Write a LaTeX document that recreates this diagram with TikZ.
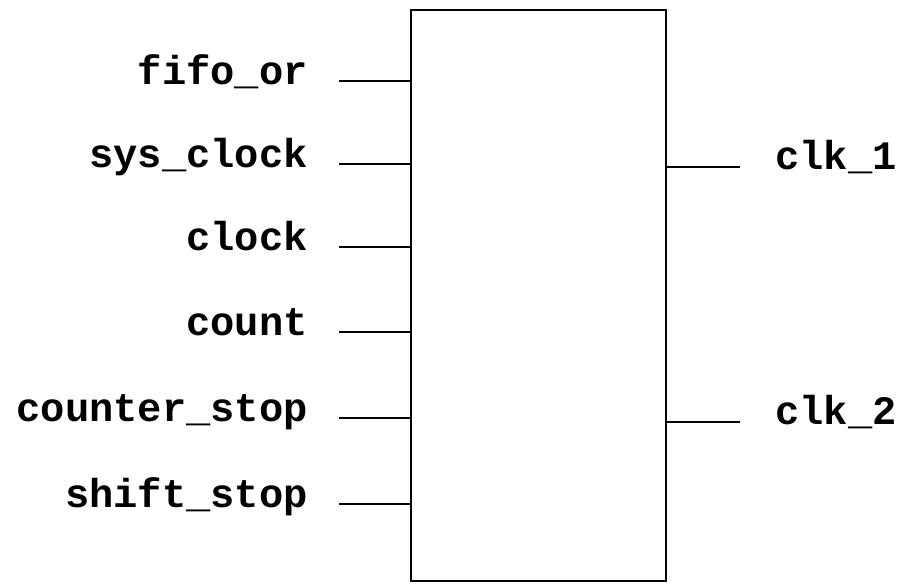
\documentclass[tikz,border=0pt]{standalone}
\usepackage{fontspec}
\newfontfamily\pinfont{Liberation Mono}
\usetikzlibrary{positioning}
\begin{document}
\begin{tikzpicture}[x=1cm, y=1cm, font=\pinfont\bfseries\fontsize{23}{26}\selectfont,
  block/.style={draw=black, line width=1.5pt, minimum width=5.1cm, minimum height=11.42cm, inner sep=0pt},
  wire/.style={line width=1.3pt},
  inlabel/.style={anchor=base east, inner sep=0pt},
  outlabel/.style={anchor=base west, inner sep=0pt},
]
\useasboundingbox (0,0) rectangle (18,11.7);

% ---------------------------------------------------------------- block
\node[block] (blk) at (10.77,5.79) {};

% ---------------------------------------------------------------- inputs
\coordinate (i1) at (6.78,10.08);
\coordinate (i2) at (6.78,8.42);
\coordinate (i3) at (6.78,6.76);
\coordinate (i4) at (6.78,5.06);
\coordinate (i5) at (6.78,3.34);
\coordinate (i6) at (6.78,1.62);
\node[inlabel] (l1) at (6.16,10.0) {fifo\_or};
\node[inlabel] (l2) at (6.16,8.34) {sys\_clock};
\node[inlabel] (l3) at (6.16,6.68) {clock};
\node[inlabel] (l4) at (6.16,4.98) {count};
\node[inlabel] (l5) at (6.16,3.26) {counter\_stop};
\node[inlabel] (l6) at (6.16,1.54) {shift\_stop};
\draw[wire] (i1) -- (i1 -| blk.west);
\draw[wire] (i2) -- (i2 -| blk.west);
\draw[wire] (i3) -- (i3 -| blk.west);
\draw[wire] (i4) -- (i4 -| blk.west);
\draw[wire] (i5) -- (i5 -| blk.west);
\draw[wire] (i6) -- (i6 -| blk.west);

% ---------------------------------------------------------------- outputs
\coordinate (o1) at (14.8,8.36);
\coordinate (o2) at (14.8,3.26);
\node[outlabel] (r1) at (15.5,8.3) {clk\_1};
\node[outlabel] (r2) at (15.5,3.2) {clk\_2};
\draw[wire] (o1 -| blk.east) -- (o1);
\draw[wire] (o2 -| blk.east) -- (o2);
\end{tikzpicture}
\end{document}
